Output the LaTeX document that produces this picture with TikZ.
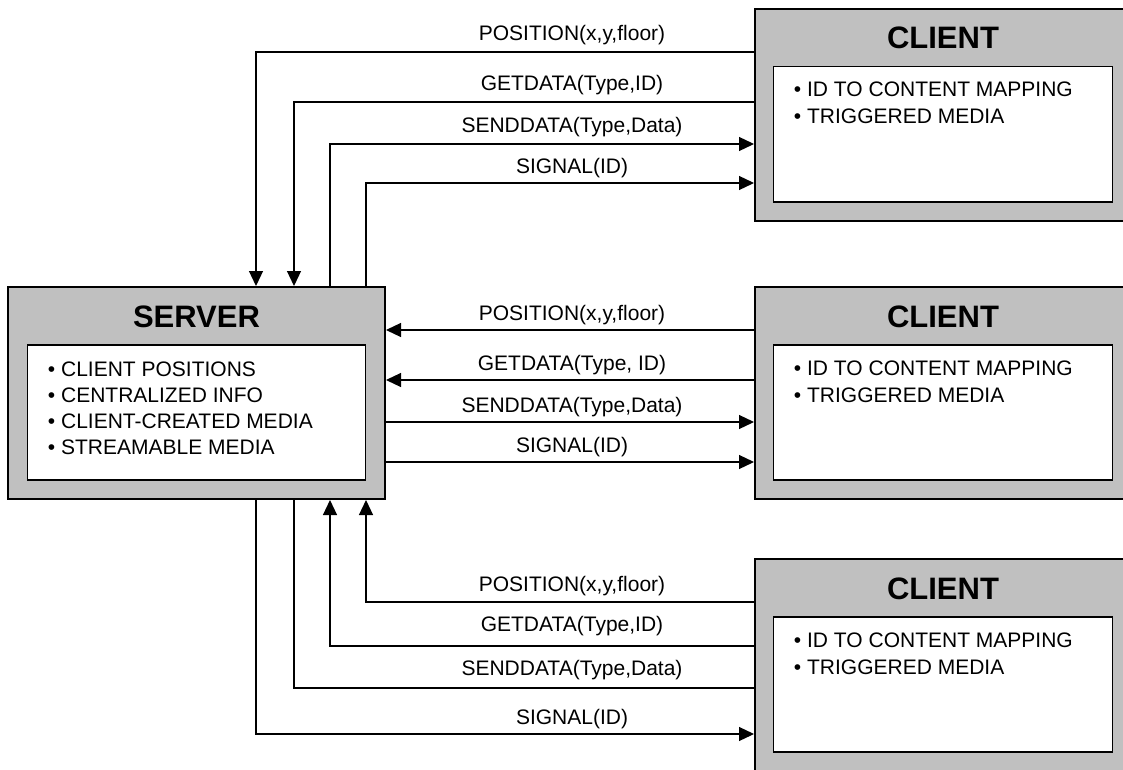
\documentclass[tikz,border=0pt]{standalone}
\usepackage{fontspec}
\setmainfont{Liberation Sans}
\usetikzlibrary{arrows.meta}

\definecolor{boxgray}{HTML}{C0C0C0}
\tikzset{
  outerbox/.style={draw, line width=2pt, fill=boxgray, minimum width=376pt, minimum height=212pt, inner sep=0pt},
  innerbox/.style={draw, line width=1.5pt, fill=white, minimum width=339pt, minimum height=135pt, inner sep=0pt, anchor=north},
  boxtitle/.style={font=\fontsize{31}{36}\selectfont\bfseries, anchor=base, inner sep=0pt},
  item/.style={font=\fontsize{21}{26}\selectfont, anchor=base west, inner sep=0pt},
  lbl/.style={font=\fontsize{21}{26}\selectfont, anchor=base, inner sep=0pt},
  msg/.style={line width=1.2pt, -{Triangle[length=15pt,width=14pt]}},
  plain/.style={line width=1.2pt}
}

\begin{document}
\begin{tikzpicture}[x=1pt,y=-1pt]
\useasboundingbox (0,0) rectangle (1123,770);
\clip (0,0) rectangle (1123,770);

% server
\node[outerbox, minimum width=377pt] (srv) at (196.5,393) {};
\node[innerbox, minimum width=338pt] (srvin) at ([yshift=-58pt]srv.north) {};
\node[boxtitle] (srvt) at ([yshift=-41pt]srv.north) {SERVER};
\node[item] (srvi1) at ([xshift=21pt,yshift=-32pt]srvin.north west) {\textbullet\ CLIENT POSITIONS};
\node[item] (srvi2) at ([xshift=21pt,yshift=-58pt]srvin.north west) {\textbullet\ CENTRALIZED INFO};
\node[item] (srvi3) at ([xshift=21pt,yshift=-84pt]srvin.north west) {\textbullet\ CLIENT-CREATED MEDIA};
\node[item] (srvi4) at ([xshift=21pt,yshift=-110pt]srvin.north west) {\textbullet\ STREAMABLE MEDIA};

% clients
\node[outerbox] (cl1) at (943,115) {};
\node[innerbox] (cl1in) at ([yshift=-58pt]cl1.north) {};
\node[boxtitle] (cl1t) at ([yshift=-41pt]cl1.north) {CLIENT};
\node[item] (cl1i1) at ([xshift=21pt,yshift=-31pt]cl1in.north west) {\textbullet\ ID TO CONTENT MAPPING};
\node[item] (cl1i2) at ([xshift=21pt,yshift=-58pt]cl1in.north west) {\textbullet\ TRIGGERED MEDIA};

\node[outerbox] (cl2) at (943,393) {};
\node[innerbox] (cl2in) at ([yshift=-58pt]cl2.north) {};
\node[boxtitle] (cl2t) at ([yshift=-41pt]cl2.north) {CLIENT};
\node[item] (cl2i1) at ([xshift=21pt,yshift=-31pt]cl2in.north west) {\textbullet\ ID TO CONTENT MAPPING};
\node[item] (cl2i2) at ([xshift=21pt,yshift=-58pt]cl2in.north west) {\textbullet\ TRIGGERED MEDIA};

\node[outerbox] (cl3) at (943,665) {};
\node[innerbox] (cl3in) at ([yshift=-58pt]cl3.north) {};
\node[boxtitle] (cl3t) at ([yshift=-41pt]cl3.north) {CLIENT};
\node[item] (cl3i1) at ([xshift=21pt,yshift=-31pt]cl3in.north west) {\textbullet\ ID TO CONTENT MAPPING};
\node[item] (cl3i2) at ([xshift=21pt,yshift=-58pt]cl3in.north west) {\textbullet\ TRIGGERED MEDIA};

% top client
\draw[msg] ([yshift=-44pt]cl1.north west) -| ([xshift=-130pt]srv.north east);
\draw[msg] ([yshift=-94pt]cl1.north west) -| ([xshift=-92pt]srv.north east);
\draw[msg] ([xshift=-56pt]srv.north east) |- ([yshift=-136pt]cl1.north west);
\draw[msg] ([xshift=-20pt]srv.north east) |- ([yshift=-175pt]cl1.north west);
\node[lbl] (m1a) at (572,41) {POSITION(x,y,floor)};
\node[lbl] (m1b) at (572,91) {GETDATA(Type,ID)};
\node[lbl] (m1c) at (572,133) {SENDDATA(Type,Data)};
\node[lbl] (m1d) at (572,174) {SIGNAL(ID)};

% middle client
\draw[msg] ([yshift=-44pt]cl2.north west) -- ([yshift=-44pt]srv.north east);
\draw[msg] ([yshift=-94pt]cl2.north west) -- ([yshift=-94pt]srv.north east);
\draw[msg] ([yshift=-136pt]srv.north east) -- ([yshift=-136pt]cl2.north west);
\draw[msg] ([yshift=-176pt]srv.north east) -- ([yshift=-176pt]cl2.north west);
\node[lbl] (m2a) at (572,320) {POSITION(x,y,floor)};
\node[lbl] (m2b) at (572,370) {GETDATA(Type, ID)};
\node[lbl] (m2c) at (572,412) {SENDDATA(Type,Data)};
\node[lbl] (m2d) at (572,452) {SIGNAL(ID)};

% bottom client
\draw[msg] ([yshift=-44pt]cl3.north west) -| ([xshift=-20pt]srv.south east);
\draw[msg] ([yshift=-88pt]cl3.north west) -| ([xshift=-56pt]srv.south east);
\draw[plain] ([xshift=-92pt]srv.south east) |- ([yshift=-130pt]cl3.north west);
\draw[msg] ([xshift=-130pt]srv.south east) |- ([yshift=-176pt]cl3.north west);
\node[lbl] (m3a) at (572,591) {POSITION(x,y,floor)};
\node[lbl] (m3b) at (572,631) {GETDATA(Type,ID)};
\node[lbl] (m3c) at (572,675) {SENDDATA(Type,Data)};
\node[lbl] (m3d) at (572,724) {SIGNAL(ID)};
\end{tikzpicture}
\end{document}
